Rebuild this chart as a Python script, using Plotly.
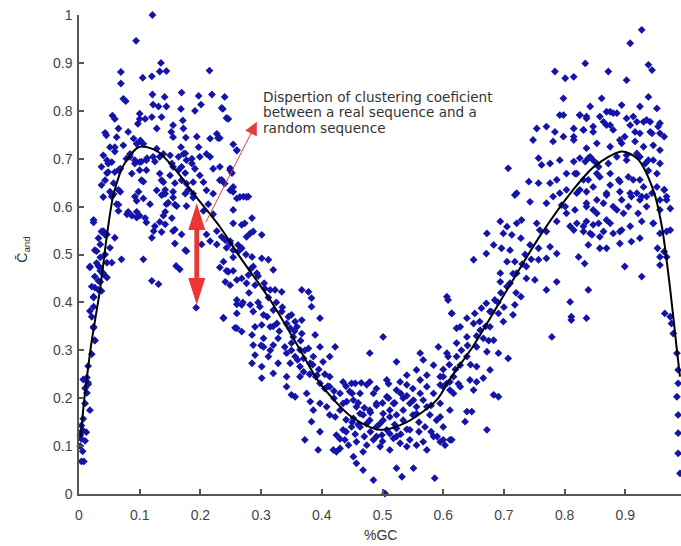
import plotly.graph_objects as go

# ---- scatter data (x = %GC, y = C_and) ----
left_x = [0.121,0.094,0.069,0.069,0.105,0.120,0.135,0.133,0.144,0.215,0.073,0.077,0.121,0.169,0.197,0.219,0.240,0.122,0.131,0.144,0.141,0.168,0.191,0.201,0.237,0.246,0.055,0.059,0.043,0.045,0.065,0.081,0.062,0.100,0.100,0.109,0.097,0.120,0.136,0.128,0.155,0.152,0.171,0.172,0.155,0.176,0.168,0.194,0.197,0.216,0.227,0.229,0.254,0.260,0.051,0.059,0.073,0.090,0.095,0.101,0.106,0.084,0.078,0.092,0.100,0.111,0.111,0.122,0.133,0.139,0.150,0.128,0.164,0.172,0.177,0.186,0.199,0.210,0.216,0.169,0.155,0.191,0.199,0.221,0.232,0.249,0.040,0.046,0.054,0.037,0.048,0.059,0.068,0.087,0.103,0.133,0.150,0.139,0.177,0.188,0.205,0.232,0.240,0.037,0.051,0.068,0.098,0.128,0.142,0.155,0.175,0.188,0.210,0.221,0.249,0.040,0.106,
          0.057,0.062,0.065,0.079,0.087,0.095,0.100,0.111,0.095,0.117,0.139,0.144,0.139,0.142,0.123,0.120,0.155,0.169,0.161,0.177,0.155,0.188,0.205,0.213,0.221,0.227,0.210,0.202,0.216,0.227,0.243,0.249,0.254,0.232,0.243,0.254,0.177,0.160,0.166,0.120,0.131,0.070,0.106,0.193,0.238,0.260,0.257,
          0.024,0.040,0.046,0.035,0.029,0.018,0.035,0.040,0.032,0.046,0.037,0.026,0.024,0.018,0.024,0.026,0.021,0.015,0.013,0.015,0.059,0.054,0.051,0.035,0.043,0.046,0.032,
          0.007,0.015,0.010,0.013,0.010,0.018,0.007,0.004,0.007,0.002,0.004,0.010,0.002,0.006,0.004,0.008,0.003,0.012,
          0.235,0.243,0.232,0.260,0.249,0.252,0.235,0.254,0.265,0.276,
          0.059,0.048,0.046,0.065,0.043,0.057,0.065,0.054,0.065,0.084,0.092,0.103,0.100,0.112,0.106,0.125,0.092,0.081,0.095,0.109,0.125,0.136,0.142,0.136,0.147,0.158,0.142,0.133,0.136,0.153,0.158,0.169,0.175,0.158,0.180,0.164,0.186,0.153,0.175,
          0.024,0.037,0.032,0.043,0.026,0.029,0.018,0.035,0.040,0.026,0.035,0.021,0.032,0.024,0.024,0.021,0.024,0.026,0.175,0.158]
left_y = [1.000,0.946,0.881,0.857,0.869,0.872,0.900,0.882,0.883,0.884,0.825,0.820,0.834,0.838,0.831,0.834,0.829,0.813,0.809,0.809,0.829,0.804,0.800,0.813,0.804,0.783,0.790,0.783,0.754,0.749,0.763,0.756,0.745,0.794,0.783,0.783,0.773,0.787,0.787,0.763,0.770,0.756,0.780,0.763,0.745,0.744,0.724,0.746,0.724,0.742,0.752,0.743,0.730,0.717,0.724,0.724,0.728,0.742,0.731,0.738,0.731,0.710,0.700,0.697,0.693,0.676,0.697,0.704,0.704,0.710,0.707,0.721,0.704,0.710,0.697,0.700,0.704,0.710,0.704,0.683,0.683,0.679,0.665,0.679,0.683,0.676,0.707,0.697,0.693,0.683,0.672,0.672,0.679,0.669,0.655,0.669,0.665,0.651,0.648,0.651,0.651,0.655,0.648,0.645,0.631,0.631,0.631,0.634,0.627,0.631,0.627,0.627,0.634,0.627,0.634,0.620,0.617,
          0.626,0.605,0.591,0.584,0.581,0.577,0.581,0.567,0.612,0.605,0.626,0.605,0.581,0.563,0.549,0.535,0.549,0.542,0.601,0.601,0.619,0.619,0.591,0.605,0.584,0.549,0.542,0.521,0.528,0.521,0.514,0.528,0.494,0.473,0.466,0.466,0.507,0.476,0.469,0.445,0.438,0.490,0.490,0.389,0.368,0.396,0.347,
          0.567,0.549,0.542,0.521,0.507,0.473,0.466,0.459,0.445,0.452,0.424,0.431,0.410,0.382,0.347,0.320,0.292,0.267,0.243,0.229,0.535,0.483,0.514,0.494,0.500,0.483,0.476,
          0.239,0.232,0.221,0.211,0.189,0.175,0.157,0.143,0.132,0.122,0.115,0.111,0.100,0.089,0.068,0.068,0.129,0.129,
          0.806,0.785,0.743,0.718,0.680,0.670,0.656,0.641,0.620,0.620,
          0.715,0.690,0.670,0.676,0.655,0.649,0.635,0.621,0.604,0.704,0.690,0.694,0.676,0.701,0.652,0.694,0.621,0.589,0.589,0.576,0.559,0.655,0.635,0.624,0.608,0.604,0.589,0.568,0.547,0.576,0.552,0.655,0.670,0.649,0.635,0.676,0.690,0.690,0.711,
          0.572,0.548,0.534,0.541,0.509,0.482,0.475,0.472,0.461,0.454,0.443,0.433,0.426,0.412,0.391,0.370,0.349,0.321,0.509,0.523]

mid_x = [0.254,0.260,0.271,0.279,0.254,0.285,0.254,0.268,0.273,0.287,0.301,0.276,0.282,0.235,0.241,0.249,0.254,0.262,0.268,0.285,0.301,0.312,0.320,0.287,0.293,0.279,0.238,0.246,0.241,0.249,0.260,0.268,0.276,0.290,0.306,0.315,0.323,0.334,0.367,0.378,0.383,0.383,0.397,0.260,0.268,0.238,0.260,0.282,0.298,0.287,0.304,0.320,0.334,0.350,0.356,0.367,0.290,0.301,0.315,0.326,0.342,0.348,0.359,0.260,0.268,0.285,0.304,0.328,0.353,0.367,0.389,0.501,0.287,0.304,0.320,0.339,0.350,0.364,0.378,0.397,0.422,0.290,0.312,0.342,0.356,0.370,0.386,0.413,0.479,0.285,0.301,0.328,0.348,0.364,0.381,0.402,0.523,0.562,0.567,0.584,0.556,0.592,0.608,0.614,0.622,0.606,0.622,0.301,0.320,0.342,0.364,0.392,0.413,0.435,0.449,0.479,0.507,0.529,0.540,0.562,0.573,0.595,0.611,
         0.342,0.350,0.356,0.375,0.381,0.386,0.383,0.397,0.372,0.394,0.397,0.408,0.413,0.422,0.435,0.430,0.413,0.397,0.446,0.452,0.463,0.455,0.474,0.485,0.490,0.479,0.463,0.452,0.449,0.463,0.474,0.435,0.424,0.438,0.444,0.430,0.419,0.457,0.474,0.485,0.499,0.507,0.496,0.512,0.501,0.518,0.507,0.523,0.540,0.534,0.551,0.562,0.573,0.584,0.595,0.611,0.595,0.573,0.556,0.534,0.545,0.523,0.518,0.529,0.540,0.556,0.567,0.584,0.595,0.611,0.573,0.512,0.496,0.468,0.452,0.457,0.468,0.485,0.504,0.523,0.532,0.551,0.586,0.424,
         0.600,0.617,0.628,0.650,0.655,0.683,0.691,0.639,0.647,0.636,0.672,0.600,0.614,0.603,0.595,0.611,
         0.430,0.441,0.457,0.468,0.479,0.490,0.501,0.512,0.523,0.534,0.545,0.556,0.567,0.578,0.589,0.600,0.512,0.523,0.545,0.560,0.470,0.455,0.440,0.420,0.405,0.465,0.490,0.510,0.550,0.580,
         0.262,0.275,0.283,0.295,0.305,0.312,0.325,0.335,0.345,0.355,0.365,0.372,0.385,0.395,0.405,0.310,0.320,0.330,0.295,0.280,0.270,0.300,0.315,0.350,0.360,0.370,0.380,0.390,0.410,0.420,
         0.440,0.450,0.460,0.470,0.480,0.490,0.500,0.510,0.520,0.530,0.540,0.550,0.560,0.570,0.580,0.590,0.500,0.490,0.480,0.460,0.450,0.440,0.430,0.520,0.530,0.540]
mid_y = [0.631,0.617,0.621,0.621,0.593,0.576,0.565,0.562,0.565,0.548,0.541,0.537,0.544,0.537,0.530,0.523,0.509,0.506,0.513,0.495,0.492,0.489,0.468,0.475,0.461,0.457,0.485,0.464,0.443,0.436,0.447,0.450,0.440,0.436,0.429,0.426,0.426,0.422,0.426,0.422,0.409,0.391,0.367,0.405,0.395,0.367,0.377,0.395,0.391,0.381,0.374,0.384,0.381,0.374,0.360,0.363,0.349,0.353,0.349,0.356,0.356,0.346,0.349,0.346,0.339,0.332,0.325,0.325,0.328,0.335,0.332,0.328,0.311,0.307,0.311,0.307,0.315,0.301,0.304,0.307,0.307,0.290,0.287,0.294,0.287,0.283,0.287,0.287,0.294,0.273,0.266,0.273,0.273,0.266,0.273,0.276,0.276,0.294,0.280,0.269,0.259,0.307,0.405,0.377,0.346,0.294,0.287,0.242,0.252,0.245,0.245,0.248,0.245,0.234,0.231,0.234,0.238,0.234,0.248,0.238,0.248,0.245,0.234,
         0.224,0.207,0.203,0.210,0.193,0.175,0.151,0.130,0.113,0.092,0.189,0.182,0.165,0.161,0.189,0.210,0.224,0.231,0.214,0.196,0.210,0.231,0.228,0.210,0.189,0.175,0.168,0.158,0.140,0.140,0.147,0.134,0.123,0.113,0.102,0.095,0.092,0.109,0.102,0.113,0.123,0.134,0.147,0.161,0.168,0.189,0.203,0.217,0.228,0.200,0.196,0.210,0.224,0.210,0.228,0.217,0.189,0.182,0.168,0.154,0.134,0.137,0.116,0.106,0.099,0.102,0.109,0.120,0.109,0.113,0.092,0.092,0.099,0.088,0.078,0.064,0.050,0.029,0.001,0.054,0.036,0.054,0.033,0.088,
         0.224,0.210,0.224,0.217,0.234,0.207,0.203,0.172,0.172,0.151,0.134,0.113,0.113,0.102,0.161,0.175,
         0.175,0.193,0.182,0.165,0.154,0.140,0.154,0.175,0.165,0.175,0.189,0.182,0.196,0.165,0.154,0.140,0.126,0.120,0.113,0.130,0.120,0.125,0.155,0.200,0.220,0.232,0.220,0.230,0.220,0.185,
         0.520,0.500,0.470,0.455,0.440,0.410,0.400,0.390,0.370,0.340,0.320,0.300,0.270,0.260,0.250,0.370,0.350,0.340,0.400,0.420,0.400,0.310,0.300,0.300,0.280,0.255,0.250,0.245,0.225,0.215,
         0.225,0.210,0.190,0.180,0.170,0.185,0.190,0.200,0.190,0.210,0.205,0.165,0.150,0.140,0.130,0.120,0.110,0.120,0.130,0.145,0.150,0.130,0.115,0.145,0.125,0.135]

right_x = [0.718,0.743,0.770,0.781,0.795,0.803,0.820,0.836,0.847,0.853,0.869,0.880,0.894,0.908,0.924,0.935,0.968,0.974,0.897,0.869,0.856,0.836,0.820,0.815,0.831,0.845,0.864,0.880,0.894,0.910,0.924,0.891,0.858,0.869,0.839,0.823,0.833,0.899,0.927,0.839,0.809,0.811,0.811,0.836,0.779,0.946,0.957,0.968,0.953,0.964,0.957,0.968,0.957,0.965,0.974,0.976,0.979,0.985,0.987,0.987,
           0.694,0.705,0.721,0.729,0.699,0.713,0.672,0.683,0.671,0.650,0.696,0.710,0.728,0.743,0.754,0.759,0.770,0.787,0.757,0.776,0.787,0.705,0.718,0.737,0.757,0.770,0.694,0.721,0.737,0.751,0.770,0.787,0.694,0.705,0.728,0.718,0.685,0.671,0.677,0.663,0.652,0.691,0.715,0.699,0.606,0.614,0.639,0.628,0.650,0.661,0.677,0.639,0.666,0.683,0.622,0.655,0.672,0.691,0.707,0.639,0.608,0.628,0.655,0.677,0.617,0.644,0.666,0.606,
           0.927,0.908,0.834,0.784,0.801,0.815,0.872,0.902,0.938,0.944,0.798,0.861,0.938,0.842,0.894,0.924,0.952,0.792,0.825,0.836,0.858,0.875,0.886,0.902,0.919,0.935,0.754,0.770,0.784,0.798,0.815,0.831,0.847,0.869,0.880,0.899,0.916,0.941,0.954,0.957,0.748,0.781,0.815,0.836,0.853,0.875,0.894,0.916,0.930,0.946,0.957,0.707,0.757,0.762,0.776,0.792,0.825,0.842,0.853,0.872,0.902,0.924,0.938,0.952,0.741,0.757,0.776,0.787,0.817,0.831,0.853,0.875,0.891,0.913,0.930,0.721,0.792,0.836,0.919,0.964,
           0.985,0.987,0.987,0.987,0.990,
           0.825,0.836,0.869,0.880,0.913,0.930,0.941,0.957,0.798,0.815,0.831,0.847,0.864,0.875,0.891,0.908,0.924,0.944,0.964,0.839,0.847,0.834,0.856,0.886,0.902,0.919,0.933,0.946,0.957,0.815,0.803,0.820,0.839,0.858,0.875,0.889,0.905,0.924,0.938,0.952,0.964,0.803,0.825,0.847,0.869,0.891,0.910,0.927,0.944,0.957,0.801,0.817,0.836,0.853,0.864,0.886,0.905,0.921,0.935,0.957,0.968,0.809,0.831,0.847,0.875,0.891,0.908,0.927,0.946,0.974,0.842,0.858,
           0.600,0.610,0.620,0.630,0.640,0.645,0.655,0.660,0.670,0.675,0.680,0.690,0.695,0.700,0.710,0.715,0.720,0.730,0.735,0.745,0.625,0.600]
right_y = [0.624,0.610,0.607,0.621,0.603,0.586,0.628,0.607,0.593,0.614,0.624,0.600,0.614,0.628,0.614,0.621,0.621,0.596,0.586,0.572,0.565,0.569,0.565,0.551,0.548,0.541,0.548,0.544,0.551,0.527,0.534,0.523,0.513,0.513,0.520,0.495,0.481,0.475,0.454,0.426,0.401,0.370,0.363,0.367,0.328,0.565,0.544,0.548,0.513,0.506,0.495,0.495,0.478,0.377,0.370,0.356,0.335,0.294,0.259,0.231,
           0.569,0.558,0.565,0.572,0.544,0.541,0.544,0.520,0.502,0.489,0.513,0.509,0.534,0.520,0.565,0.551,0.548,0.569,0.513,0.516,0.502,0.485,0.485,0.475,0.489,0.492,0.461,0.461,0.450,0.447,0.426,0.443,0.443,0.433,0.412,0.395,0.405,0.398,0.381,0.388,0.377,0.377,0.374,0.360,0.412,0.377,0.367,0.349,0.356,0.342,0.349,0.328,0.325,0.321,0.315,0.307,0.297,0.294,0.283,0.287,0.287,0.269,0.266,0.259,0.245,0.238,0.242,0.231,
           0.969,0.941,0.899,0.882,0.868,0.871,0.882,0.864,0.896,0.885,0.826,0.826,0.829,0.809,0.812,0.809,0.805,0.791,0.791,0.784,0.788,0.798,0.795,0.784,0.777,0.781,0.763,0.767,0.756,0.746,0.763,0.760,0.767,0.770,0.760,0.746,0.756,0.756,0.767,0.753,0.739,0.736,0.739,0.722,0.732,0.725,0.732,0.736,0.725,0.728,0.718,0.680,0.701,0.687,0.690,0.697,0.701,0.704,0.690,0.690,0.697,0.704,0.697,0.669,0.652,0.649,0.649,0.656,0.669,0.656,0.669,0.645,0.652,0.656,0.641,0.628,0.628,0.631,0.628,0.635,
           0.203,0.165,0.127,0.085,0.043,
           0.791,0.788,0.798,0.795,0.788,0.777,0.777,0.774,0.791,0.746,0.760,0.756,0.777,0.770,0.739,0.770,0.753,0.753,0.746,0.701,0.697,0.694,0.683,0.704,0.707,0.711,0.690,0.697,0.690,0.694,0.669,0.669,0.656,0.662,0.669,0.656,0.662,0.656,0.675,0.641,0.635,0.635,0.635,0.641,0.628,0.631,0.621,0.621,0.628,0.614,0.600,0.593,0.600,0.586,0.607,0.593,0.600,0.586,0.600,0.593,0.614,0.559,0.559,0.562,0.565,0.548,0.559,0.569,0.565,0.551,0.544,0.537,
           0.260,0.270,0.260,0.300,0.310,0.270,0.330,0.360,0.350,0.320,0.380,0.400,0.420,0.390,0.440,0.460,0.420,0.480,0.500,0.490,0.230,0.245]

# ---- fitted curve ----
fit_x = [0.003,0.008,0.013,0.021,0.035,0.046,0.057,0.075,0.100,0.130,0.160,0.190,0.232,0.265,0.315,0.360,0.397,0.450,0.496,0.540,0.589,0.611,0.650,0.705,0.760,0.814,0.850,0.894,0.920,0.946,0.960,0.974,0.985,0.990]
fit_y = [0.120,0.190,0.243,0.320,0.430,0.540,0.626,0.690,0.725,0.715,0.675,0.625,0.558,0.495,0.405,0.310,0.231,0.160,0.134,0.150,0.196,0.240,0.310,0.426,0.540,0.635,0.685,0.715,0.700,0.635,0.560,0.426,0.300,0.245]

# ---- tick labels ----
x_ticks = [0, 0.1, 0.2, 0.3, 0.4, 0.5, 0.6, 0.7, 0.8, 0.9]
x_labels = ["0", "0.1", "0.2", "0.3", "0.4", "0.5", "0.6", "0.7", "0.8", "0.9"]
y_ticks = [0, 0.1, 0.2, 0.3, 0.4, 0.5, 0.6, 0.7, 0.8, 0.9, 1]
y_labels = ["0", "0.1", "0.2", "0.3", "0.4", "0.5", "0.6", "0.7", "0.8", "0.9", "1"]

# ---- annotation anchors ----
band_x = 0.194
band_top, band_bottom = 0.607, 0.395
note_tail = (0.204, 0.555)
note_head = (0.293, 0.777)
note_lines = ["Dispertion of clustering coeficient", "between a real sequence and a", "random sequence"]
note_line_y = [0.829, 0.797, 0.764]

xs = left_x + mid_x + right_x
ys = left_y + mid_y + right_y

fig = go.Figure()
fig.add_trace(go.Scatter(x=xs, y=ys, mode="markers", cliponaxis=False,
                         marker=dict(symbol="diamond", size=6, color="#1414a8", line=dict(width=0)),
                         showlegend=False))
fig.add_trace(go.Scatter(x=fit_x, y=fit_y, mode="lines", line=dict(color="black", width=2, shape="spline", smoothing=0.8),
                         showlegend=False))

# thick red double arrow (shape)
hw = 0.014   # head half-width (x units)
sw = 0.004   # shaft half-width
hl = 0.056   # head length (y units)
p = (f"M{band_x},{band_top} L{band_x+hw},{band_top-hl} L{band_x+sw},{band_top-hl} "
     f"L{band_x+sw},{band_bottom+hl} L{band_x+hw},{band_bottom+hl} L{band_x},{band_bottom} "
     f"L{band_x-hw},{band_bottom+hl} L{band_x-sw},{band_bottom+hl} L{band_x-sw},{band_top-hl} "
     f"L{band_x-hw},{band_top-hl} Z")
fig.add_shape(type="path", path=p, xref="x", yref="y", fillcolor="#ee3535", line=dict(width=0))

# thin arrow to the note
fig.add_annotation(x=note_head[0], y=note_head[1], ax=note_tail[0], ay=note_tail[1], axref="x", ayref="y",
                   xref="x", yref="y", text=" ", showarrow=True, arrowhead=2, arrowsize=2.6, arrowwidth=1,
                   arrowcolor="#e04040", standoff=0, startstandoff=0)
for line, ly in zip(note_lines, note_line_y):
    fig.add_annotation(x=0.300, y=ly, xref="x", yref="y", text=line, showarrow=False,
                       xanchor="left", yanchor="middle", align="left",
                       font=dict(family="DejaVu Sans", size=13.6, color="#333333"))

# axis titles
fig.add_annotation(x=0.496, y=0, xref="x", yref="paper", yshift=-41, yanchor="middle", xanchor="center",
                   text="%GC", showarrow=False,
                   font=dict(family="Liberation Sans", size=14, color="#333333"))
fig.add_annotation(x=0, y=0.51, xref="paper", yref="y", xshift=-56, xanchor="center", yanchor="middle",
                   text="C\u0304<sub>and</sub>", textangle=-90,
                   showarrow=False, font=dict(family="Liberation Sans", size=14, color="#333333"))

axis_common = dict(showline=True, linecolor="#555555", linewidth=1.5, ticks="inside", ticklen=5,
                   tickcolor="#555555", tickwidth=1.5, showgrid=False, zeroline=False, automargin=False,
                   ticklabeloverflow="allow",
                   tickfont=dict(family="Liberation Sans", size=14, color="#444444"))
fig.update_xaxes(range=[0, 0.9917], tickvals=x_ticks, ticktext=x_labels, ticklabelstandoff=7, **axis_common)
fig.update_yaxes(range=[0, 1], tickvals=y_ticks, ticktext=y_labels, ticklabelstandoff=2, **axis_common)
fig.update_layout(width=681, height=546, margin=dict(l=79, r=0, t=15, b=52),
                  plot_bgcolor="white", paper_bgcolor="white")
fig.write_html("out.html", config={"displayModeBar": False},
               post_script="document.body.style.margin='0px';")
